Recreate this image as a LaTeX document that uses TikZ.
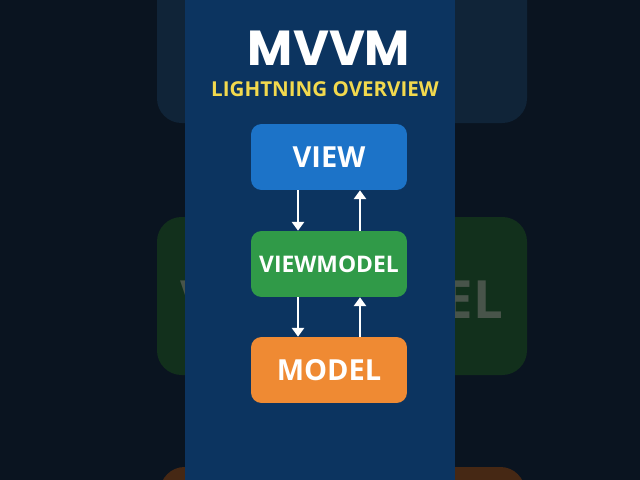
\documentclass[tikz,border=0pt]{standalone}
\usepackage{fontspec}
\setmainfont{Open Sans}
\newfontfamily\titlefont{Poppins}
\usetikzlibrary{positioning, arrows.meta}
\definecolor{bgdark}{RGB}{10,20,32}
\definecolor{panelblue}{RGB}{12,52,96}
\definecolor{ghostblue}{RGB}{16,36,56}
\definecolor{ghostgreen}{RGB}{18,48,28}
\definecolor{ghosttext}{RGB}{72,84,74}
\definecolor{ghostorange}{RGB}{70,40,20}
\definecolor{viewblue}{RGB}{28,115,200}
\definecolor{vmgreen}{RGB}{48,154,72}
\definecolor{modelorange}{RGB}{239,138,51}
\definecolor{subyellow}{RGB}{242,217,78}
\tikzset{
  layer/.style={rounded corners=6pt, minimum width=3.12cm, minimum height=1.32cm,
    text=white, font=\bfseries\fontsize{16.5}{18}\selectfont},
  flow/.style={-{Triangle[length=5pt,width=7pt]}, white, line width=1pt}
}
\begin{document}
\begin{tikzpicture}[x=0.02cm, y=-0.02cm]
\useasboundingbox (0,0) rectangle (640,480);
% background and ghost layers
\fill[bgdark] (0,0) rectangle (640,480);
\fill[ghostblue, rounded corners=14pt] (157,-30) rectangle (527,123);
\fill[ghostgreen, rounded corners=14pt] (157,217) rectangle (527,375);
\fill[ghostorange, rounded corners=14pt] (160,467) rectangle (525,520);
\node[text=ghosttext, font=\bfseries\fontsize{30}{30}\selectfont] (ghost) at (342,300) {VIEWMODEL};
% center panel
\fill[panelblue] (185,0) rectangle (455,480);
% titles
\node[text=white, font=\titlefont\bfseries\fontsize{28}{30}\selectfont] (title) at (329,48) {MVVM};
\node[text=subyellow, font=\bfseries\fontsize{11.7}{14}\selectfont] (subtitle) at (325,89) {LIGHTNING OVERVIEW};
% layers
\node[layer, fill=viewblue] (view) at (329,157) {VIEW};
\node[layer, fill=vmgreen, font=\bfseries\fontsize{13}{15}\selectfont] (viewmodel) at (329,264) {VIEWMODEL};
\node[layer, fill=modelorange] (model) at (329,370) {MODEL};
% arrows
\draw[flow] ([xshift=-0.62cm]view.south) -- ([xshift=-0.62cm]viewmodel.north);
\draw[flow] ([xshift=0.62cm]viewmodel.north) -- ([xshift=0.62cm]view.south);
\draw[flow] ([xshift=-0.62cm]viewmodel.south) -- ([xshift=-0.62cm]model.north);
\draw[flow] ([xshift=0.62cm]model.north) -- ([xshift=0.62cm]viewmodel.south);
\end{tikzpicture}
\end{document}
